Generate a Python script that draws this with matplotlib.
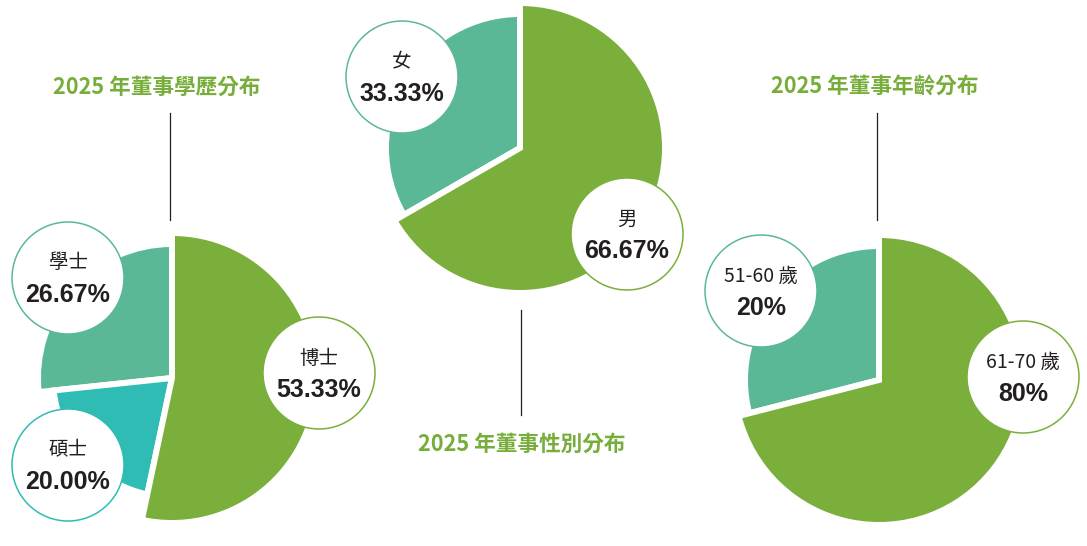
import matplotlib
matplotlib.use("Agg")
import matplotlib.pyplot as plt
from matplotlib.patches import Circle

# ---------------- data ----------------
edu_labels = ["學士", "碩士", "博士"]
edu_values = [26.67, 20.00, 53.33]
edu_pct_text = ["26.67%", "20.00%", "53.33%"]

gender_labels = ["女", "男"]
gender_values = [33.33, 66.67]
gender_pct_text = ["33.33%", "66.67%"]

age_labels = ["51-60 歲", "61-70 歲"]
age_values = [29, 71]          # slice shares as drawn in the picture
age_pct_text = ["20%", "80%"]

titles = ["2025 年董事學歷分布", "2025 年董事性別分布", "2025 年董事年齡分布"]

# ---------------- style ----------------
GREEN = "#7aaf3c"
TEAL = "#5bb896"
TEAL2 = "#2fbcb4"
DARK = "#231f20"
TITLE_GREEN = "#77ad3b"
W, H = 1087, 546


def Y(y):
    return H - y


fig = plt.figure(figsize=(W / 100, H / 100), dpi=100)
ax = fig.add_axes([0, 0, 1, 1])

GAP_LW = 4.3
R_GREEN = 145


def draw_pie(values, colors, center, radii):
    wedges, _ = ax.pie(values, colors=colors, startangle=90, counterclock=True,
                       center=(center[0], Y(center[1])), radius=R_GREEN,
                       wedgeprops=dict(edgecolor="white", linewidth=GAP_LW))
    for w, r in zip(wedges, radii):
        w.set_radius(r)
    return wedges


draw_pie(edu_values, [TEAL, TEAL2, GREEN], (172, 378), [134, 119, 145])
draw_pie(gender_values, [TEAL, GREEN], (520, 148), [134, 145])
draw_pie(age_values, [TEAL, GREEN], (879, 380), [134, 145])

CJK = ["Noto Sans CJK TC", "DejaVu Sans"]
NUM = ["Liberation Sans", "DejaVu Sans"]


def bubble(cx, cy, name, pct, edge):
    ax.add_patch(Circle((cx, Y(cy)), 56, facecolor="white", edgecolor=edge,
                        linewidth=1.1, zorder=5))
    ax.text(cx, Y(cy - 15), name, ha="center", va="center", fontsize=14,
            family=CJK, color=DARK, zorder=6)
    ax.text(cx, Y(cy + 17), pct, ha="center", va="center", fontsize=18,
            family=NUM, fontweight="bold", color=DARK, zorder=6)


bubble(68, 278, edu_labels[0], edu_pct_text[0], TEAL)
bubble(68, 465, edu_labels[1], edu_pct_text[1], TEAL2)
bubble(319, 373, edu_labels[2], edu_pct_text[2], GREEN)

bubble(402, 77, gender_labels[0], gender_pct_text[0], TEAL)
bubble(627, 234, gender_labels[1], gender_pct_text[1], GREEN)

bubble(761, 291, age_labels[0], age_pct_text[0], TEAL)
bubble(1023, 377, age_labels[1], age_pct_text[1], GREEN)

# titles and connector lines
title_pos = [(157, 87), (522, 444), (875, 87)]
for t, (x, y) in zip(titles, title_pos):
    ax.text(x, Y(y), t, ha="center", va="center", fontsize=15.6,
            family=CJK, fontweight="bold", color=TITLE_GREEN)

for x, y0, y1 in [(170, 113, 220), (521, 310, 415), (877, 113, 220)]:
    ax.plot([x, x], [Y(y0), Y(y1)], color=DARK, linewidth=0.9)

ax.set_xlim(0, W)
ax.set_ylim(0, H)
ax.set_aspect("auto")
ax.axis("off")
fig.savefig("out.png", dpi=100, facecolor="white")
